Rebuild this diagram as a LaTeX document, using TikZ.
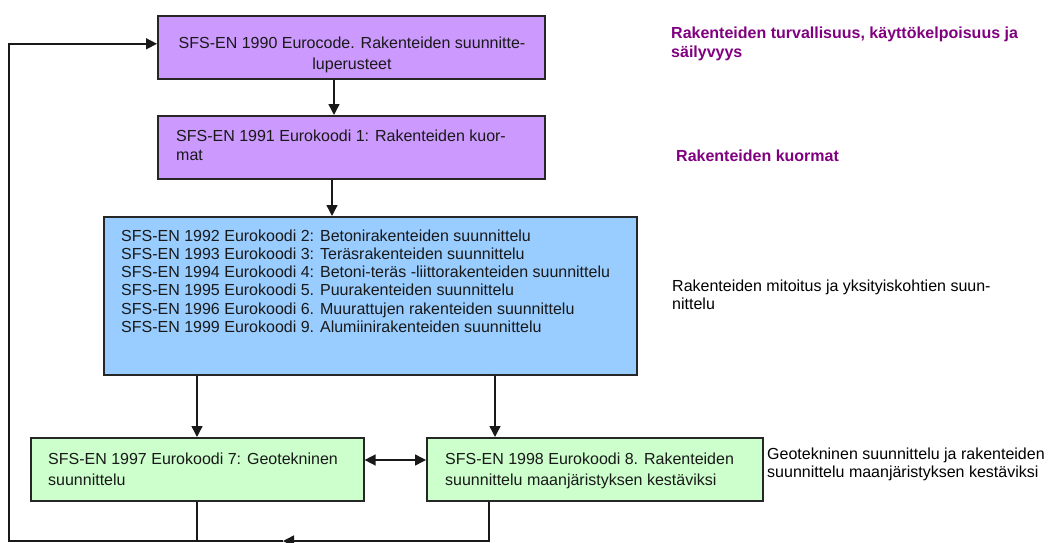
\documentclass[tikz,border=0pt]{standalone}
\usepackage{fontspec}
\setmainfont{Liberation Sans}
\usetikzlibrary{arrows.meta}
\definecolor{lilac}{HTML}{CC99FF}
\definecolor{skyb}{HTML}{99CCFF}
\definecolor{mint}{HTML}{CCFFCC}
\definecolor{plum}{HTML}{800080}
\begin{document}
\begin{tikzpicture}[x=1pt,y=-1pt,
  box/.style={draw=black!85, line width=1.6pt, inner sep=0pt, anchor=north west},
  txt/.style={inner sep=0pt, align=left, anchor=base west, text=black!90},
  conn/.style={line width=1.5pt, draw=black!90},
  arr/.style={conn, -{Triangle[length=11pt,width=11pt]}},
  darr/.style={conn, {Triangle[length=11pt,width=11pt]}-{Triangle[length=11pt,width=11pt]}},
  lab/.style={inner sep=0pt, align=left, anchor=base west}]
\useasboundingbox[fill=white] (0,0) rectangle (1049,543);
% boxes
\node[box, fill=lilac, minimum width=387pt, minimum height=63pt] (b1) at (157,15) {};
\node[box, fill=lilac, minimum width=387pt, minimum height=63pt] (b2) at (157,115) {};
\node[box, fill=skyb, minimum width=533pt, minimum height=158pt] (b3) at (103,216) {};
\node[box, fill=mint, minimum width=333pt, minimum height=63pt] (b4) at (30,437) {};
\node[box, fill=mint, minimum width=336pt, minimum height=63pt] (b5) at (426,437) {};
% box texts (anchored at the baseline of the last line)
\node[txt, align=center, anchor=base, font=\fontsize{16pt}{21pt}\selectfont] (t1) at (352,70)
  {SFS-EN 1990 Eurocode. Rakenteiden suunnitte-\\luperusteet};
\node[txt, font=\fontsize{16pt}{19pt}\selectfont] (t2) at (176,160)
  {SFS-EN 1991 Eurokoodi 1: Rakenteiden kuor-\\mat};
\node[txt, font=\fontsize{16pt}{18.3pt}\selectfont] (t3) at (121,332.5)
  {SFS-EN 1992 Eurokoodi 2: Betonirakenteiden suunnittelu\\
   SFS-EN 1993 Eurokoodi 3: Teräsrakenteiden suunnittelu\\
   SFS-EN 1994 Eurokoodi 4: Betoni-teräs -liittorakenteiden suunnittelu\\
   SFS-EN 1995 Eurokoodi 5. Puurakenteiden suunnittelu\\
   SFS-EN 1996 Eurokoodi 6. Muurattujen rakenteiden suunnittelu\\
   SFS-EN 1999 Eurokoodi 9. Alumiinirakenteiden suunnittelu};
\node[txt, font=\fontsize{16pt}{21pt}\selectfont] (t4) at (48,485)
  {SFS-EN 1997 Eurokoodi 7: Geotekninen\\suunnittelu};
\node[txt, font=\fontsize{16pt}{21pt}\selectfont] (t5) at (445,485)
  {SFS-EN 1998 Eurokoodi 8. Rakenteiden\\suunnittelu maanjäristyksen kestäviksi};
% side labels
\node[lab, text=plum, font=\bfseries\fontsize{16pt}{19pt}\selectfont] (l1) at (671,58)
  {Rakenteiden turvallisuus, käyttökelpoisuus ja\\säilyvyys};
\node[lab, text=plum, font=\bfseries\fontsize{16pt}{19pt}\selectfont] (l2) at (676,161)
  {Rakenteiden kuormat};
\node[lab, font=\fontsize{16pt}{18.5pt}\selectfont] (l3) at (672,309.5)
  {Rakenteiden mitoitus ja yksityiskohtien suun-\\nittelu};
\node[lab, font=\fontsize{16pt}{18.5pt}\selectfont] (l4) at (767,477.5)
  {Geotekninen suunnittelu ja rakenteiden\\suunnittelu maanjäristyksen kestäviksi};
% connectors
\draw[arr] ([xshift=177pt]b1.south west) -- ([xshift=177pt]b2.north west);
\draw[arr] ([xshift=175pt]b2.south west) -- ([xshift=229pt]b3.north west);
\draw[arr] ([xshift=94pt]b3.south west) -- ([xshift=167pt]b4.north west);
\draw[arr] ([xshift=392pt]b3.south west) -- ([xshift=69pt]b5.north west);
\draw[darr] ([yshift=-23pt]b4.north east) -- ([yshift=-23pt]b5.north west);
\coordinate (m) at (283,541);
\coordinate (bl) at (9,541);
\draw[conn] ([xshift=167pt]b4.south west) -- ([xshift=167pt]b4.south west |- m);
\draw[arr] ([xshift=63pt]b5.south west) |- (m);
\draw[arr] (m) -- (bl) |- ([yshift=3.5pt]b1.west);
\end{tikzpicture}
\end{document}
